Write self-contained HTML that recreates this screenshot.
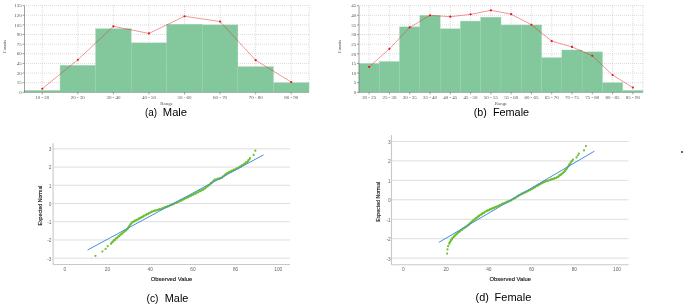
<!DOCTYPE html>
<html><head><meta charset="utf-8"><title>Figure</title>
<style>html,body{margin:0;padding:0;background:#fff}svg{display:block}</style></head>
<body>
<svg width="685" height="305" viewBox="0 0 685 305">
<rect width="685" height="305" fill="#fff"/>
<g stroke="#d2d2d2" stroke-width="0.8" stroke-dasharray="1 1" fill="none"><line x1="26" y1="82.71" x2="309" y2="82.71"/><line x1="26" y1="73.07" x2="309" y2="73.07"/><line x1="26" y1="63.43" x2="309" y2="63.43"/><line x1="26" y1="53.79" x2="309" y2="53.79"/><line x1="26" y1="44.16" x2="309" y2="44.16"/><line x1="26" y1="34.52" x2="309" y2="34.52"/><line x1="26" y1="24.88" x2="309" y2="24.88"/><line x1="26" y1="15.24" x2="309" y2="15.24"/><line x1="26" y1="5.60" x2="309" y2="5.60"/><line x1="42.28" y1="5" x2="42.28" y2="92.35"/><line x1="77.84" y1="5" x2="77.84" y2="92.35"/><line x1="113.41" y1="5" x2="113.41" y2="92.35"/><line x1="148.97" y1="5" x2="148.97" y2="92.35"/><line x1="184.53" y1="5" x2="184.53" y2="92.35"/><line x1="220.09" y1="5" x2="220.09" y2="92.35"/><line x1="255.66" y1="5" x2="255.66" y2="92.35"/><line x1="291.22" y1="5" x2="291.22" y2="92.35"/><line x1="309" y1="5" x2="309" y2="92.35"/></g>
<g fill="#83c89c" stroke="#9bd3b0" stroke-width="0.35"><rect x="24.50" y="90.42" width="35.56" height="1.93"/><rect x="60.06" y="65.36" width="35.56" height="26.99"/><rect x="95.62" y="28.73" width="35.56" height="63.62"/><rect x="131.19" y="42.87" width="35.56" height="49.48"/><rect x="166.75" y="24.24" width="35.56" height="68.11"/><rect x="202.31" y="24.88" width="35.56" height="67.47"/><rect x="237.88" y="66.65" width="35.56" height="25.70"/><rect x="273.44" y="82.71" width="35.56" height="9.64"/></g>
<line x1="24.5" y1="92.35" x2="309" y2="92.35" stroke="#8c8c8c" stroke-width="0.6"/>
<g stroke="#606060" stroke-width="0.6" fill="none"><line x1="24.5" y1="5.6" x2="24.5" y2="92.64999999999999"/>
<line x1="22.5" y1="92.35" x2="24.5" y2="92.35"/>
<line x1="22.5" y1="82.71" x2="24.5" y2="82.71"/>
<line x1="22.5" y1="73.07" x2="24.5" y2="73.07"/>
<line x1="22.5" y1="63.43" x2="24.5" y2="63.43"/>
<line x1="22.5" y1="53.79" x2="24.5" y2="53.79"/>
<line x1="22.5" y1="44.16" x2="24.5" y2="44.16"/>
<line x1="22.5" y1="34.52" x2="24.5" y2="34.52"/>
<line x1="22.5" y1="24.88" x2="24.5" y2="24.88"/>
<line x1="22.5" y1="15.24" x2="24.5" y2="15.24"/>
<line x1="22.5" y1="5.60" x2="24.5" y2="5.60"/>
<line x1="42.28" y1="92.35" x2="42.28" y2="94.35"/>
<line x1="77.84" y1="92.35" x2="77.84" y2="94.35"/>
<line x1="113.41" y1="92.35" x2="113.41" y2="94.35"/>
<line x1="148.97" y1="92.35" x2="148.97" y2="94.35"/>
<line x1="184.53" y1="92.35" x2="184.53" y2="94.35"/>
<line x1="220.09" y1="92.35" x2="220.09" y2="94.35"/>
<line x1="255.66" y1="92.35" x2="255.66" y2="94.35"/>
<line x1="291.22" y1="92.35" x2="291.22" y2="94.35"/>
</g>
<polyline points="42.28,88.75 77.84,59.77 113.41,26.36 148.97,33.42 184.53,16.27 220.09,21.54 255.66,60.22 291.22,82.07" fill="none" stroke="#e53034" stroke-width="0.5"/>
<g fill="#e81418"><circle cx="42.28" cy="88.75" r="1.1"/><circle cx="77.84" cy="59.77" r="1.1"/><circle cx="113.41" cy="26.36" r="1.1"/><circle cx="148.97" cy="33.42" r="1.1"/><circle cx="184.53" cy="16.27" r="1.1"/><circle cx="220.09" cy="21.54" r="1.1"/><circle cx="255.66" cy="60.22" r="1.1"/><circle cx="291.22" cy="82.07" r="1.1"/></g>
<g font-family="Liberation Serif, serif" font-size="4.95" fill="#555">
<text x="21.7" y="94.05" text-anchor="end">0</text>
<text x="21.7" y="84.41" text-anchor="end">15</text>
<text x="21.7" y="74.77" text-anchor="end">30</text>
<text x="21.7" y="65.13" text-anchor="end">45</text>
<text x="21.7" y="55.49" text-anchor="end">60</text>
<text x="21.7" y="45.86" text-anchor="end">75</text>
<text x="21.7" y="36.22" text-anchor="end">90</text>
<text x="21.7" y="26.58" text-anchor="end">105</text>
<text x="21.7" y="16.94" text-anchor="end">120</text>
<text x="21.7" y="7.30" text-anchor="end">135</text>
<text x="42.28" y="98.65" text-anchor="middle">10 - 20</text>
<text x="77.84" y="98.65" text-anchor="middle">20 - 30</text>
<text x="113.41" y="98.65" text-anchor="middle">30 - 40</text>
<text x="148.97" y="98.65" text-anchor="middle">40 - 50</text>
<text x="184.53" y="98.65" text-anchor="middle">50 - 60</text>
<text x="220.09" y="98.65" text-anchor="middle">60 - 70</text>
<text x="255.66" y="98.65" text-anchor="middle">70 - 80</text>
<text x="291.22" y="98.65" text-anchor="middle">80 - 90</text>
<text x="166.6" y="104.7" text-anchor="middle" font-size="4.9">Range</text>
<text transform="translate(6.3,46.574999999999996) rotate(-90)" text-anchor="middle" font-size="4.7">Counts</text>
</g>
<g stroke="#d2d2d2" stroke-width="0.8" stroke-dasharray="1 1" fill="none"><line x1="360" y1="82.72" x2="643" y2="82.72"/><line x1="360" y1="73.09" x2="643" y2="73.09"/><line x1="360" y1="63.47" x2="643" y2="63.47"/><line x1="360" y1="53.84" x2="643" y2="53.84"/><line x1="360" y1="44.21" x2="643" y2="44.21"/><line x1="360" y1="34.58" x2="643" y2="34.58"/><line x1="360" y1="24.96" x2="643" y2="24.96"/><line x1="360" y1="15.33" x2="643" y2="15.33"/><line x1="360" y1="5.70" x2="643" y2="5.70"/><line x1="369.14" y1="5" x2="369.14" y2="92.35"/><line x1="389.43" y1="5" x2="389.43" y2="92.35"/><line x1="409.71" y1="5" x2="409.71" y2="92.35"/><line x1="430.00" y1="5" x2="430.00" y2="92.35"/><line x1="450.29" y1="5" x2="450.29" y2="92.35"/><line x1="470.57" y1="5" x2="470.57" y2="92.35"/><line x1="490.86" y1="5" x2="490.86" y2="92.35"/><line x1="511.14" y1="5" x2="511.14" y2="92.35"/><line x1="531.43" y1="5" x2="531.43" y2="92.35"/><line x1="551.71" y1="5" x2="551.71" y2="92.35"/><line x1="572.00" y1="5" x2="572.00" y2="92.35"/><line x1="592.29" y1="5" x2="592.29" y2="92.35"/><line x1="612.57" y1="5" x2="612.57" y2="92.35"/><line x1="632.86" y1="5" x2="632.86" y2="92.35"/><line x1="643" y1="5" x2="643" y2="92.35"/></g>
<g fill="#83c89c" stroke="#9bd3b0" stroke-width="0.35"><rect x="359.00" y="63.47" width="20.29" height="28.88"/><rect x="379.29" y="61.54" width="20.29" height="30.81"/><rect x="399.57" y="26.88" width="20.29" height="65.47"/><rect x="419.86" y="15.33" width="20.29" height="77.02"/><rect x="440.14" y="28.81" width="20.29" height="63.54"/><rect x="460.43" y="21.10" width="20.29" height="71.25"/><rect x="480.71" y="17.25" width="20.29" height="75.10"/><rect x="501.00" y="24.96" width="20.29" height="67.39"/><rect x="521.29" y="24.96" width="20.29" height="67.39"/><rect x="541.57" y="57.69" width="20.29" height="34.66"/><rect x="561.86" y="49.99" width="20.29" height="42.36"/><rect x="582.14" y="51.91" width="20.29" height="40.44"/><rect x="602.43" y="82.72" width="20.29" height="9.63"/><rect x="622.71" y="90.42" width="20.29" height="1.93"/></g>
<line x1="359" y1="92.35" x2="643" y2="92.35" stroke="#8c8c8c" stroke-width="0.6"/>
<g stroke="#606060" stroke-width="0.6" fill="none"><line x1="359" y1="5.7" x2="359" y2="92.64999999999999"/>
<line x1="357" y1="92.35" x2="359" y2="92.35"/>
<line x1="357" y1="82.72" x2="359" y2="82.72"/>
<line x1="357" y1="73.09" x2="359" y2="73.09"/>
<line x1="357" y1="63.47" x2="359" y2="63.47"/>
<line x1="357" y1="53.84" x2="359" y2="53.84"/>
<line x1="357" y1="44.21" x2="359" y2="44.21"/>
<line x1="357" y1="34.58" x2="359" y2="34.58"/>
<line x1="357" y1="24.96" x2="359" y2="24.96"/>
<line x1="357" y1="15.33" x2="359" y2="15.33"/>
<line x1="357" y1="5.70" x2="359" y2="5.70"/>
<line x1="369.14" y1="92.35" x2="369.14" y2="94.35"/>
<line x1="389.43" y1="92.35" x2="389.43" y2="94.35"/>
<line x1="409.71" y1="92.35" x2="409.71" y2="94.35"/>
<line x1="430.00" y1="92.35" x2="430.00" y2="94.35"/>
<line x1="450.29" y1="92.35" x2="450.29" y2="94.35"/>
<line x1="470.57" y1="92.35" x2="470.57" y2="94.35"/>
<line x1="490.86" y1="92.35" x2="490.86" y2="94.35"/>
<line x1="511.14" y1="92.35" x2="511.14" y2="94.35"/>
<line x1="531.43" y1="92.35" x2="531.43" y2="94.35"/>
<line x1="551.71" y1="92.35" x2="551.71" y2="94.35"/>
<line x1="572.00" y1="92.35" x2="572.00" y2="94.35"/>
<line x1="592.29" y1="92.35" x2="592.29" y2="94.35"/>
<line x1="612.57" y1="92.35" x2="612.57" y2="94.35"/>
<line x1="632.86" y1="92.35" x2="632.86" y2="94.35"/>
</g>
<polyline points="369.14,66.93 389.43,48.83 409.71,27.46 430.00,15.33 450.29,16.68 470.57,14.36 490.86,10.32 511.14,14.17 531.43,24.76 551.71,41.13 572.00,46.91 592.29,55.76 612.57,75.02 632.86,87.54" fill="none" stroke="#e53034" stroke-width="0.5"/>
<g fill="#e81418"><circle cx="369.14" cy="66.93" r="1.1"/><circle cx="389.43" cy="48.83" r="1.1"/><circle cx="409.71" cy="27.46" r="1.1"/><circle cx="430.00" cy="15.33" r="1.1"/><circle cx="450.29" cy="16.68" r="1.1"/><circle cx="470.57" cy="14.36" r="1.1"/><circle cx="490.86" cy="10.32" r="1.1"/><circle cx="511.14" cy="14.17" r="1.1"/><circle cx="531.43" cy="24.76" r="1.1"/><circle cx="551.71" cy="41.13" r="1.1"/><circle cx="572.00" cy="46.91" r="1.1"/><circle cx="592.29" cy="55.76" r="1.1"/><circle cx="612.57" cy="75.02" r="1.1"/><circle cx="632.86" cy="87.54" r="1.1"/></g>
<g font-family="Liberation Serif, serif" font-size="4.95" fill="#555">
<text x="356.2" y="94.05" text-anchor="end">0</text>
<text x="356.2" y="84.42" text-anchor="end">5</text>
<text x="356.2" y="74.79" text-anchor="end">10</text>
<text x="356.2" y="65.17" text-anchor="end">15</text>
<text x="356.2" y="55.54" text-anchor="end">20</text>
<text x="356.2" y="45.91" text-anchor="end">25</text>
<text x="356.2" y="36.28" text-anchor="end">30</text>
<text x="356.2" y="26.66" text-anchor="end">35</text>
<text x="356.2" y="17.03" text-anchor="end">40</text>
<text x="356.2" y="7.40" text-anchor="end">45</text>
<text x="369.14" y="98.65" text-anchor="middle">20 - 25</text>
<text x="389.43" y="98.65" text-anchor="middle">25 - 30</text>
<text x="409.71" y="98.65" text-anchor="middle">30 - 35</text>
<text x="430.00" y="98.65" text-anchor="middle">35 - 40</text>
<text x="450.29" y="98.65" text-anchor="middle">40 - 45</text>
<text x="470.57" y="98.65" text-anchor="middle">45 - 50</text>
<text x="490.86" y="98.65" text-anchor="middle">50 - 55</text>
<text x="511.14" y="98.65" text-anchor="middle">55 - 60</text>
<text x="531.43" y="98.65" text-anchor="middle">60 - 65</text>
<text x="551.71" y="98.65" text-anchor="middle">65 - 70</text>
<text x="572.00" y="98.65" text-anchor="middle">70 - 75</text>
<text x="592.29" y="98.65" text-anchor="middle">75 - 80</text>
<text x="612.57" y="98.65" text-anchor="middle">80 - 85</text>
<text x="632.86" y="98.65" text-anchor="middle">85 - 90</text>
<text x="501" y="104.7" text-anchor="middle" font-size="4.9">Range</text>
<text transform="translate(340.5,46.625) rotate(-90)" text-anchor="middle" font-size="4.7">Counts</text>
</g>
<g stroke="#dadada" stroke-width="0.9" fill="none">
<line x1="53.1" y1="258.16" x2="290" y2="258.16"/>
<line x1="53.1" y1="239.94" x2="290" y2="239.94"/>
<line x1="53.1" y1="221.72" x2="290" y2="221.72"/>
<line x1="53.1" y1="203.50" x2="290" y2="203.50"/>
<line x1="53.1" y1="185.28" x2="290" y2="185.28"/>
<line x1="53.1" y1="167.06" x2="290" y2="167.06"/>
<line x1="53.1" y1="148.84" x2="290" y2="148.84"/>
</g>
<g stroke="#c8c8c8" stroke-width="1.1" fill="none"><line x1="53.1" y1="143.2" x2="53.1" y2="264.5"/><line x1="53.1" y1="264.5" x2="290" y2="264.5"/></g>
<g fill="#6cc030"><circle cx="95.4" cy="255.8" r="1.1"/><circle cx="102.4" cy="251.5" r="1.1"/><circle cx="105.6" cy="248.9" r="1.1"/><circle cx="107.7" cy="246.2" r="1.1"/><circle cx="111.0" cy="243.8" r="1.1"/><circle cx="111.6" cy="242.5" r="1.1"/><circle cx="112.6" cy="242.2" r="1.1"/><circle cx="113.3" cy="241.2" r="1.1"/><circle cx="114.0" cy="240.2" r="1.1"/><circle cx="115.1" cy="239.9" r="1.1"/><circle cx="115.7" cy="238.6" r="1.1"/><circle cx="116.7" cy="238.2" r="1.1"/><circle cx="117.6" cy="237.5" r="1.1"/><circle cx="118.3" cy="236.3" r="1.1"/><circle cx="119.4" cy="236.1" r="1.1"/><circle cx="120.0" cy="235.0" r="1.1"/><circle cx="120.9" cy="234.4" r="1.1"/><circle cx="121.9" cy="234.0" r="1.1"/><circle cx="122.5" cy="232.7" r="1.1"/><circle cx="123.5" cy="232.5" r="1.1"/><circle cx="124.3" cy="231.6" r="1.1"/><circle cx="125.1" cy="230.7" r="1.1"/><circle cx="126.2" cy="230.5" r="1.1"/><circle cx="126.8" cy="229.3" r="1.1"/><circle cx="127.6" cy="228.6" r="1.1"/><circle cx="128.3" cy="227.8" r="1.1"/><circle cx="128.7" cy="226.5" r="1.1"/><circle cx="129.6" cy="226.1" r="1.1"/><circle cx="130.1" cy="224.8" r="1.1"/><circle cx="130.7" cy="223.9" r="1.1"/><circle cx="131.6" cy="223.4" r="1.1"/><circle cx="132.1" cy="222.0" r="1.1"/><circle cx="133.2" cy="222.0" r="1.1"/><circle cx="134.0" cy="221.4" r="1.1"/><circle cx="134.8" cy="220.7" r="1.1"/><circle cx="135.9" cy="220.7" r="1.1"/><circle cx="136.6" cy="219.8" r="1.1"/><circle cx="137.6" cy="219.5" r="1.1"/><circle cx="138.6" cy="219.2" r="1.1"/><circle cx="139.3" cy="218.2" r="1.1"/><circle cx="140.4" cy="218.2" r="1.1"/><circle cx="141.2" cy="217.4" r="1.1"/><circle cx="142.1" cy="216.8" r="1.1"/><circle cx="143.2" cy="216.7" r="1.1"/><circle cx="143.9" cy="215.7" r="1.1"/><circle cx="145.0" cy="215.5" r="1.1"/><circle cx="146.0" cy="215.0" r="1.1"/><circle cx="146.7" cy="214.1" r="1.1"/><circle cx="147.9" cy="214.2" r="1.1"/><circle cx="148.7" cy="213.3" r="1.1"/><circle cx="149.6" cy="212.8" r="1.1"/><circle cx="150.7" cy="212.6" r="1.1"/><circle cx="151.4" cy="211.6" r="1.1"/><circle cx="152.6" cy="211.6" r="1.1"/><circle cx="153.6" cy="211.1" r="1.1"/><circle cx="154.5" cy="210.6" r="1.1"/><circle cx="155.8" cy="210.7" r="1.1"/><circle cx="156.7" cy="210.0" r="1.1"/><circle cx="157.8" cy="209.8" r="1.1"/><circle cx="159.0" cy="209.7" r="1.1"/><circle cx="159.8" cy="208.9" r="1.1"/><circle cx="161.1" cy="209.1" r="1.1"/><circle cx="161.9" cy="208.5" r="1.1"/><circle cx="162.8" cy="208.0" r="1.1"/><circle cx="164.0" cy="208.1" r="1.1"/><circle cx="164.7" cy="207.2" r="1.1"/><circle cx="165.8" cy="207.2" r="1.1"/><circle cx="166.8" cy="206.9" r="1.1"/><circle cx="167.6" cy="206.2" r="1.1"/><circle cx="168.8" cy="206.3" r="1.1"/><circle cx="169.5" cy="205.6" r="1.1"/><circle cx="170.5" cy="205.2" r="1.1"/><circle cx="171.6" cy="205.1" r="1.1"/><circle cx="172.3" cy="204.1" r="1.1"/><circle cx="173.5" cy="204.2" r="1.1"/><circle cx="174.3" cy="203.6" r="1.1"/><circle cx="175.2" cy="202.9" r="1.1"/><circle cx="176.4" cy="203.0" r="1.1"/><circle cx="177.1" cy="202.1" r="1.1"/><circle cx="178.1" cy="201.9" r="1.1"/><circle cx="179.1" cy="201.6" r="1.1"/><circle cx="179.9" cy="200.7" r="1.1"/><circle cx="181.0" cy="200.8" r="1.1"/><circle cx="181.8" cy="200.0" r="1.1"/><circle cx="182.6" cy="199.6" r="1.1"/><circle cx="183.7" cy="199.5" r="1.1"/><circle cx="184.4" cy="198.5" r="1.1"/><circle cx="185.5" cy="198.5" r="1.1"/><circle cx="186.3" cy="198.0" r="1.1"/><circle cx="187.1" cy="197.2" r="1.1"/><circle cx="188.2" cy="197.3" r="1.1"/><circle cx="188.9" cy="196.4" r="1.1"/><circle cx="189.9" cy="196.1" r="1.1"/><circle cx="190.9" cy="195.9" r="1.1"/><circle cx="191.6" cy="195.0" r="1.1"/><circle cx="192.7" cy="195.0" r="1.1"/><circle cx="193.5" cy="194.4" r="1.1"/><circle cx="194.4" cy="193.7" r="1.1"/><circle cx="195.6" cy="193.7" r="1.1"/><circle cx="196.3" cy="192.7" r="1.1"/><circle cx="197.4" cy="192.5" r="1.1"/><circle cx="198.4" cy="192.1" r="1.1"/><circle cx="199.1" cy="191.2" r="1.1"/><circle cx="200.4" cy="191.2" r="1.1"/><circle cx="201.2" cy="190.4" r="1.1"/><circle cx="202.1" cy="189.9" r="1.1"/><circle cx="203.3" cy="189.7" r="1.1"/><circle cx="204.0" cy="188.7" r="1.1"/><circle cx="205.1" cy="188.5" r="1.1"/><circle cx="205.9" cy="187.6" r="1.1"/><circle cx="206.6" cy="186.7" r="1.1"/><circle cx="207.8" cy="186.5" r="1.1"/><circle cx="208.4" cy="185.3" r="1.1"/><circle cx="209.4" cy="184.8" r="1.1"/><circle cx="210.3" cy="184.3" r="1.1"/><circle cx="210.8" cy="183.1" r="1.1"/><circle cx="211.8" cy="182.9" r="1.1"/><circle cx="212.5" cy="182.0" r="1.1"/><circle cx="213.2" cy="181.1" r="1.1"/><circle cx="214.2" cy="180.9" r="1.1"/><circle cx="214.7" cy="179.7" r="1.1"/><circle cx="215.9" cy="179.7" r="1.1"/><circle cx="217.0" cy="179.4" r="1.1"/><circle cx="217.9" cy="178.7" r="1.1"/><circle cx="219.2" cy="178.9" r="1.1"/><circle cx="220.1" cy="178.2" r="1.1"/><circle cx="221.2" cy="177.9" r="1.1"/><circle cx="222.1" cy="177.6" r="1.1"/><circle cx="222.7" cy="176.5" r="1.1"/><circle cx="223.7" cy="176.3" r="1.1"/><circle cx="224.4" cy="175.5" r="1.1"/><circle cx="225.1" cy="174.7" r="1.1"/><circle cx="226.1" cy="174.5" r="1.1"/><circle cx="226.7" cy="173.4" r="1.1"/><circle cx="227.6" cy="173.0" r="1.1"/><circle cx="228.6" cy="172.7" r="1.1"/><circle cx="229.3" cy="171.8" r="1.1"/><circle cx="230.5" cy="171.9" r="1.1"/><circle cx="231.2" cy="171.2" r="1.1"/><circle cx="232.1" cy="170.7" r="1.1"/><circle cx="233.2" cy="170.6" r="1.1"/><circle cx="233.9" cy="169.6" r="1.1"/><circle cx="235.1" cy="169.5" r="1.1"/><circle cx="236.2" cy="168.9" r="1.1"/><circle cx="237.1" cy="168.1" r="1.1"/><circle cx="238.4" cy="168.1" r="1.1"/><circle cx="239.2" cy="167.1" r="1.1"/><circle cx="240.1" cy="166.7" r="1.1"/><circle cx="241.1" cy="166.4" r="1.1"/><circle cx="241.7" cy="165.3" r="1.1"/><circle cx="242.8" cy="165.3" r="1.1"/><circle cx="243.6" cy="164.5" r="1.1"/><circle cx="244.4" cy="163.7" r="1.1"/><circle cx="245.4" cy="163.5" r="1.1"/><circle cx="246.0" cy="162.3" r="1.1"/><circle cx="247.0" cy="162.0" r="1.1"/><circle cx="247.9" cy="161.4" r="1.1"/><circle cx="248.4" cy="160.0" r="1.1"/><circle cx="249.4" cy="159.4" r="1.1"/><circle cx="250.0" cy="158.1" r="1.1"/><circle cx="253.6" cy="154.9" r="1.1"/><circle cx="255.3" cy="150.7" r="1.1"/></g>
<line x1="87.6" y1="250" x2="263.6" y2="154.8" stroke="#4a8ddc" stroke-width="1"/>
<g font-family="Liberation Sans, sans-serif" font-size="4.8" fill="#666">
<text x="51.4" y="260.56" text-anchor="end">-3</text>
<text x="51.4" y="242.34" text-anchor="end">-2</text>
<text x="51.4" y="224.12" text-anchor="end">-1</text>
<text x="51.4" y="205.90" text-anchor="end">0</text>
<text x="51.4" y="187.68" text-anchor="end">1</text>
<text x="51.4" y="169.46" text-anchor="end">2</text>
<text x="51.4" y="151.24" text-anchor="end">3</text>
<text x="64.80" y="270.80" text-anchor="middle">0</text>
<text x="107.50" y="270.80" text-anchor="middle">20</text>
<text x="150.20" y="270.80" text-anchor="middle">40</text>
<text x="192.90" y="270.80" text-anchor="middle">60</text>
<text x="235.60" y="270.80" text-anchor="middle">80</text>
<text x="278.30" y="270.80" text-anchor="middle">100</text>
</g>
<g font-family="Liberation Sans, sans-serif" font-size="5.8" fill="#111">
<text x="171.5" y="281.1" text-anchor="middle" textLength="41.6" lengthAdjust="spacingAndGlyphs" stroke="#111" stroke-width="0.12">Observed Value</text>
<text transform="translate(42,205.5) rotate(-90)" text-anchor="middle" textLength="40" lengthAdjust="spacingAndGlyphs" stroke="#111" stroke-width="0.12">Expected Normal</text>
</g>
<g stroke="#dadada" stroke-width="0.9" fill="none">
<line x1="391.5" y1="258.15" x2="628.5" y2="258.15"/>
<line x1="391.5" y1="238.70" x2="628.5" y2="238.70"/>
<line x1="391.5" y1="219.25" x2="628.5" y2="219.25"/>
<line x1="391.5" y1="199.80" x2="628.5" y2="199.80"/>
<line x1="391.5" y1="180.35" x2="628.5" y2="180.35"/>
<line x1="391.5" y1="160.90" x2="628.5" y2="160.90"/>
<line x1="391.5" y1="141.45" x2="628.5" y2="141.45"/>
</g>
<g stroke="#c8c8c8" stroke-width="1.1" fill="none"><line x1="391.5" y1="135" x2="391.5" y2="264.7"/><line x1="391.5" y1="264.7" x2="628.5" y2="264.7"/></g>
<g fill="#6cc030"><circle cx="447.1" cy="253.6" r="1.1"/><circle cx="447.5" cy="249.4" r="1.1"/><circle cx="448.1" cy="246.2" r="1.1"/><circle cx="449.3" cy="243.8" r="1.1"/><circle cx="449.6" cy="242.4" r="1.1"/><circle cx="450.3" cy="242.0" r="1.1"/><circle cx="450.7" cy="240.8" r="1.1"/><circle cx="451.2" cy="239.8" r="1.1"/><circle cx="452.0" cy="239.4" r="1.1"/><circle cx="452.3" cy="238.1" r="1.1"/><circle cx="453.1" cy="237.6" r="1.1"/><circle cx="453.9" cy="236.8" r="1.1"/><circle cx="454.4" cy="235.6" r="1.1"/><circle cx="455.4" cy="235.4" r="1.1"/><circle cx="456.0" cy="234.3" r="1.1"/><circle cx="456.9" cy="233.7" r="1.1"/><circle cx="457.8" cy="233.2" r="1.1"/><circle cx="458.4" cy="232.0" r="1.1"/><circle cx="459.5" cy="231.8" r="1.1"/><circle cx="460.3" cy="230.9" r="1.1"/><circle cx="461.0" cy="230.0" r="1.1"/><circle cx="462.1" cy="229.8" r="1.1"/><circle cx="462.8" cy="228.7" r="1.1"/><circle cx="463.8" cy="228.3" r="1.1"/><circle cx="464.7" cy="227.9" r="1.1"/><circle cx="465.4" cy="226.8" r="1.1"/><circle cx="466.5" cy="226.7" r="1.1"/><circle cx="467.3" cy="225.8" r="1.1"/><circle cx="468.0" cy="225.1" r="1.1"/><circle cx="468.9" cy="224.8" r="1.1"/><circle cx="469.4" cy="223.5" r="1.1"/><circle cx="470.4" cy="223.2" r="1.1"/><circle cx="471.1" cy="222.5" r="1.1"/><circle cx="471.7" cy="221.5" r="1.1"/><circle cx="472.7" cy="221.3" r="1.1"/><circle cx="473.3" cy="220.2" r="1.1"/><circle cx="474.2" cy="219.7" r="1.1"/><circle cx="475.1" cy="219.3" r="1.1"/><circle cx="475.7" cy="218.2" r="1.1"/><circle cx="476.7" cy="218.0" r="1.1"/><circle cx="477.4" cy="217.2" r="1.1"/><circle cx="478.1" cy="216.4" r="1.1"/><circle cx="479.1" cy="216.2" r="1.1"/><circle cx="479.8" cy="215.1" r="1.1"/><circle cx="480.9" cy="214.7" r="1.1"/><circle cx="481.9" cy="214.2" r="1.1"/><circle cx="482.6" cy="213.2" r="1.1"/><circle cx="483.8" cy="213.1" r="1.1"/><circle cx="484.6" cy="212.1" r="1.1"/><circle cx="485.5" cy="211.5" r="1.1"/><circle cx="486.6" cy="211.2" r="1.1"/><circle cx="487.3" cy="210.3" r="1.1"/><circle cx="488.5" cy="210.4" r="1.1"/><circle cx="489.3" cy="209.8" r="1.1"/><circle cx="490.1" cy="209.2" r="1.1"/><circle cx="491.3" cy="209.3" r="1.1"/><circle cx="492.0" cy="208.4" r="1.1"/><circle cx="493.1" cy="208.2" r="1.1"/><circle cx="494.1" cy="208.0" r="1.1"/><circle cx="494.8" cy="207.1" r="1.1"/><circle cx="496.0" cy="207.2" r="1.1"/><circle cx="496.8" cy="206.5" r="1.1"/><circle cx="497.7" cy="206.0" r="1.1"/><circle cx="498.9" cy="206.0" r="1.1"/><circle cx="499.5" cy="205.0" r="1.1"/><circle cx="500.7" cy="204.9" r="1.1"/><circle cx="501.6" cy="204.5" r="1.1"/><circle cx="502.4" cy="203.7" r="1.1"/><circle cx="503.6" cy="203.9" r="1.1"/><circle cx="504.3" cy="203.0" r="1.1"/><circle cx="505.3" cy="202.7" r="1.1"/><circle cx="506.4" cy="202.6" r="1.1"/><circle cx="507.1" cy="201.7" r="1.1"/><circle cx="508.3" cy="201.7" r="1.1"/><circle cx="509.1" cy="201.1" r="1.1"/><circle cx="510.0" cy="200.5" r="1.1"/><circle cx="511.1" cy="200.6" r="1.1"/><circle cx="511.8" cy="199.6" r="1.1"/><circle cx="512.8" cy="199.3" r="1.1"/><circle cx="513.7" cy="198.9" r="1.1"/><circle cx="514.4" cy="197.9" r="1.1"/><circle cx="515.5" cy="197.9" r="1.1"/><circle cx="516.3" cy="197.0" r="1.1"/><circle cx="517.1" cy="196.4" r="1.1"/><circle cx="518.2" cy="196.3" r="1.1"/><circle cx="518.8" cy="195.2" r="1.1"/><circle cx="519.9" cy="195.1" r="1.1"/><circle cx="520.7" cy="194.5" r="1.1"/><circle cx="521.5" cy="193.7" r="1.1"/><circle cx="522.7" cy="193.8" r="1.1"/><circle cx="523.5" cy="192.9" r="1.1"/><circle cx="524.5" cy="192.6" r="1.1"/><circle cx="525.5" cy="192.4" r="1.1"/><circle cx="526.2" cy="191.5" r="1.1"/><circle cx="527.4" cy="191.5" r="1.1"/><circle cx="528.2" cy="190.8" r="1.1"/><circle cx="529.1" cy="190.2" r="1.1"/><circle cx="530.3" cy="190.1" r="1.1"/><circle cx="531.0" cy="189.1" r="1.1"/><circle cx="532.1" cy="188.8" r="1.1"/><circle cx="533.0" cy="188.4" r="1.1"/><circle cx="533.8" cy="187.4" r="1.1"/><circle cx="535.0" cy="187.4" r="1.1"/><circle cx="535.8" cy="186.5" r="1.1"/><circle cx="536.7" cy="185.9" r="1.1"/><circle cx="537.8" cy="185.7" r="1.1"/><circle cx="538.5" cy="184.7" r="1.1"/><circle cx="539.6" cy="184.6" r="1.1"/><circle cx="540.5" cy="184.0" r="1.1"/><circle cx="541.2" cy="183.2" r="1.1"/><circle cx="542.4" cy="183.2" r="1.1"/><circle cx="543.1" cy="182.2" r="1.1"/><circle cx="544.1" cy="181.9" r="1.1"/><circle cx="545.3" cy="181.7" r="1.1"/><circle cx="546.1" cy="180.9" r="1.1"/><circle cx="547.4" cy="181.1" r="1.1"/><circle cx="548.3" cy="180.5" r="1.1"/><circle cx="549.4" cy="180.0" r="1.1"/><circle cx="550.6" cy="180.1" r="1.1"/><circle cx="551.4" cy="179.2" r="1.1"/><circle cx="552.7" cy="179.2" r="1.1"/><circle cx="553.8" cy="178.8" r="1.1"/><circle cx="554.6" cy="178.1" r="1.1"/><circle cx="556.0" cy="178.2" r="1.1"/><circle cx="556.8" cy="177.5" r="1.1"/><circle cx="557.7" cy="176.9" r="1.1"/><circle cx="558.7" cy="176.6" r="1.1"/><circle cx="559.3" cy="175.4" r="1.1"/><circle cx="560.4" cy="175.2" r="1.1"/><circle cx="561.2" cy="174.4" r="1.1"/><circle cx="561.9" cy="173.5" r="1.1"/><circle cx="562.9" cy="173.3" r="1.1"/><circle cx="563.5" cy="172.2" r="1.1"/><circle cx="564.4" cy="171.7" r="1.1"/><circle cx="565.2" cy="170.9" r="1.1"/><circle cx="565.6" cy="169.6" r="1.1"/><circle cx="566.5" cy="169.2" r="1.1"/><circle cx="567.1" cy="167.9" r="1.1"/><circle cx="567.8" cy="166.8" r="1.1"/><circle cx="568.7" cy="166.2" r="1.1"/><circle cx="569.2" cy="164.6" r="1.1"/><circle cx="570.1" cy="164.0" r="1.1"/><circle cx="570.7" cy="162.8" r="1.1"/><circle cx="571.3" cy="161.5" r="1.1"/><circle cx="572.3" cy="160.9" r="1.1"/><circle cx="572.9" cy="159.5" r="1.1"/><circle cx="576.5" cy="157.4" r="1.1"/><circle cx="577.8" cy="155.3" r="1.1"/><circle cx="578.9" cy="153.6" r="1.1"/><circle cx="584.0" cy="150.4" r="1.1"/><circle cx="585.9" cy="146.1" r="1.1"/></g>
<line x1="438.8" y1="242.4" x2="594.5" y2="151.1" stroke="#4a8ddc" stroke-width="1"/>
<g font-family="Liberation Sans, sans-serif" font-size="4.8" fill="#666">
<text x="390.7" y="260.55" text-anchor="end">-3</text>
<text x="390.7" y="241.10" text-anchor="end">-2</text>
<text x="390.7" y="221.65" text-anchor="end">-1</text>
<text x="390.7" y="202.20" text-anchor="end">0</text>
<text x="390.7" y="182.75" text-anchor="end">1</text>
<text x="390.7" y="163.30" text-anchor="end">2</text>
<text x="390.7" y="143.85" text-anchor="end">3</text>
<text x="403.30" y="271.00" text-anchor="middle">0</text>
<text x="446.05" y="271.00" text-anchor="middle">20</text>
<text x="488.80" y="271.00" text-anchor="middle">40</text>
<text x="531.55" y="271.00" text-anchor="middle">60</text>
<text x="574.30" y="271.00" text-anchor="middle">80</text>
<text x="617.05" y="271.00" text-anchor="middle">100</text>
</g>
<g font-family="Liberation Sans, sans-serif" font-size="5.8" fill="#111">
<text x="510.3" y="281.2" text-anchor="middle" textLength="41.6" lengthAdjust="spacingAndGlyphs" stroke="#111" stroke-width="0.12">Observed Value</text>
<text transform="translate(380.4,201.8) rotate(-90)" text-anchor="middle" textLength="40" lengthAdjust="spacingAndGlyphs" stroke="#111" stroke-width="0.12">Expected Normal</text>
</g>
<g font-family="Liberation Sans, sans-serif" font-size="11.5" fill="#000">
<text x="144.9" y="116.0" textLength="12.1" lengthAdjust="spacingAndGlyphs">(a)</text>
<text x="162.8" y="116.0" textLength="24.3" lengthAdjust="spacingAndGlyphs">Male</text>
<text x="473.8" y="116.0" textLength="13.1" lengthAdjust="spacingAndGlyphs">(b)</text>
<text x="492.9" y="116.0" textLength="36.2" lengthAdjust="spacingAndGlyphs">Female</text>
<text x="146.5" y="301.5" textLength="12.0" lengthAdjust="spacingAndGlyphs">(c)</text>
<text x="164.8" y="301.5" textLength="23.6" lengthAdjust="spacingAndGlyphs">Male</text>
<text x="475.6" y="301.4" textLength="13.3" lengthAdjust="spacingAndGlyphs">(d)</text>
<text x="494.6" y="301.4" textLength="36.7" lengthAdjust="spacingAndGlyphs">Female</text>
</g>
<rect x="681.2" y="151.2" width="1.6" height="1.6" fill="#111"/>
</svg>
</body></html>
